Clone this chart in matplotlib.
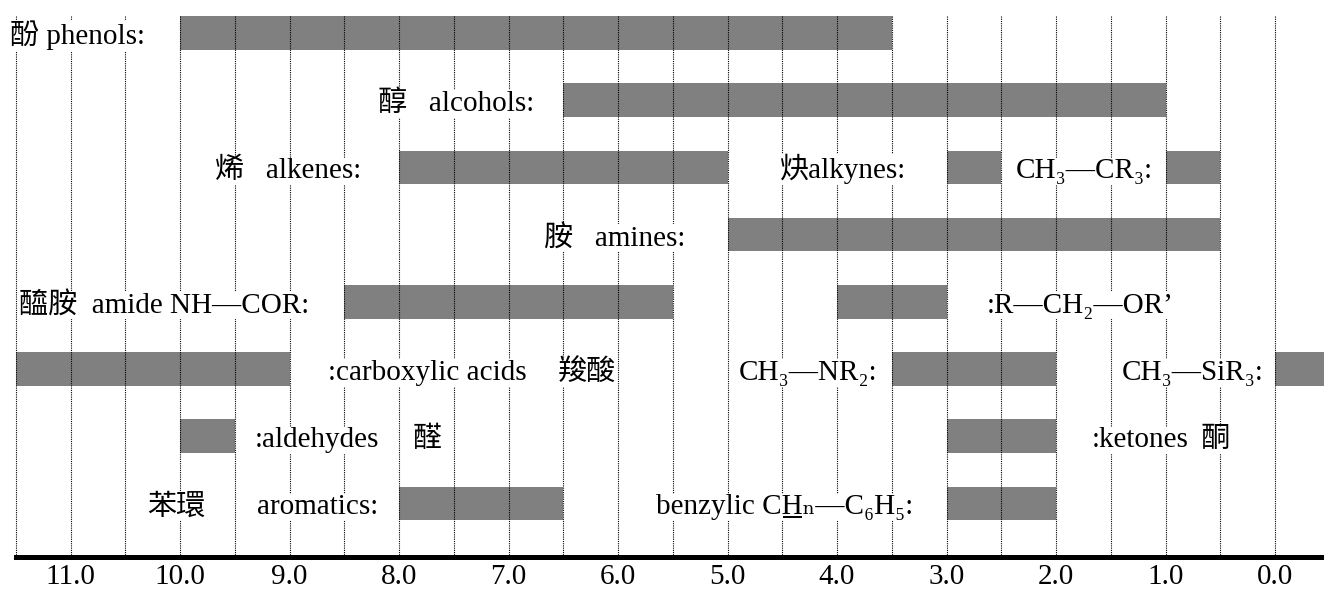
import numpy as np
import matplotlib
matplotlib.use("Agg")
import matplotlib.pyplot as plt

plt.rcParams['font.family'] = ['Liberation Serif', 'DejaVu Serif', 'Noto Sans CJK TC']
plt.rcParams['font.size'] = 21

# chemical shift ranges (ppm), one row per line of the chart
bar_rows = [0, 1, 2, 2, 2, 3, 4, 4, 5, 5, 5, 6, 6, 7, 7]
bar_start = [10.0, 6.5, 8.0, 3.0, 1.0, 5.0, 8.5, 4.0, 11.5, 3.5, 0.0, 10.0, 3.0, 8.0, 3.0]
bar_end = [3.5, 1.0, 5.0, 2.5, 0.5, 0.5, 5.5, 3.0, 9.0, 2.0, -0.5, 9.5, 2.0, 6.5, 2.0]

label_texts = ['酚 phenols:', '醇   alcohols:', '烯   alkenes:', '炔alkynes:', 'CH₃—CR₃:',
               '胺   amines:', '醯胺  amide NH—COR:', ':R—CH₂—OR’',
               ':carboxylic acids', '羧酸', 'CH₃—NR₂:', 'CH₃—SiR₃:',
               ':aldehydes', '醛', ':ketones', '酮',
               '苯環', 'aromatics:', 'benzylic CHₙ—C₆H₅:']
label_rows = [0, 1, 2, 2, 2, 3, 4, 4, 5, 5, 5, 5, 6, 6, 6, 6, 7, 7, 7]
label_x = [11.55, 8.19, 9.68, 4.52, 2.37, 6.68, 11.47, 2.63,
           8.65, 6.55, 4.90, 1.40, 9.32, 7.88, 1.67, 0.68, 10.30, 9.30, 5.65]

# the H in the benzylic label is underlined
underline_prefix = 'benzylic C'
underline_part = 'H'

tick_vals = [11.0, 10.0, 9.0, 8.0, 7.0, 6.0, 5.0, 4.0, 3.0, 2.0, 1.0, 0.0]
tick_labels = ['%.1f' % t for t in tick_vals]

fig = plt.figure(figsize=(13.24, 5.90), dpi=100)
ax = fig.add_axes([0, 0, 1, 1])
ax.set_xlim(11.644, -0.447)
ax.set_ylim(8.289, -0.491)

bars_left = np.array(bar_end)
bars_width = np.array(bar_start) - bars_left
ax.barh(bar_rows, bars_width, left=bars_left, height=0.5, color='#808080', zorder=1)

# dotted grid every 0.5 ppm
grid = np.arange(0, 12, 0.5)
ax.vlines(grid, -0.25, 7.8, colors='black', linestyles=(0, (1, 1)), lw=0.8, zorder=2)

texts = []
for txt, r, x in zip(label_texts, label_rows, label_x):
    t = ax.text(x, r + 0.165, txt, ha='left', va='baseline', zorder=3,
                bbox=dict(facecolor='white', edgecolor='none', pad=0.5))
    texts.append(t)

for spine in ['top', 'left', 'right']:
    ax.spines[spine].set_visible(False)
ax.spines['bottom'].set_position(('data', 7.8))
ax.spines['bottom'].set_bounds(11.5, -0.447)
ax.spines['bottom'].set_linewidth(3.6)
ax.set_xticks(tick_vals, tick_labels)
ax.set_yticks([])
ax.tick_params(axis='x', length=0, pad=5, labelsize=21)
ax.patch.set_visible(False)

# underline under "H" of the benzylic label, measured from the rendered text
renderer = fig.canvas.get_renderer()


def text_width(s):
    tmp = ax.text(0, 0, s)
    w = tmp.get_window_extent(renderer).width
    tmp.remove()
    return w


bt = texts[-1]
x0 = bt.get_window_extent(renderer).x0
xa = x0 + text_width(underline_prefix) + 1
xb = x0 + text_width(underline_prefix + underline_part) - 1
yb = ax.transData.transform(bt.get_position())[1] - 3
inv = ax.transData.inverted()
(ua, uy), (ub, _) = inv.transform([(xa, yb), (xb, yb)])
ax.plot([ua, ub], [uy, uy], color='black', lw=1.4, zorder=4, solid_capstyle='butt')

fig.savefig('out.png', dpi=100)
